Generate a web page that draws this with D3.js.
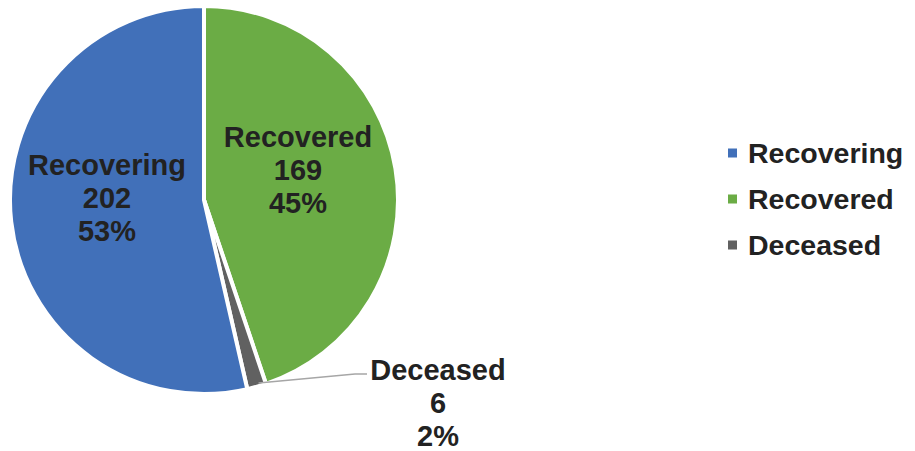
<!DOCTYPE html>
<html><head><meta charset="utf-8">
<script src="https://cdn.jsdelivr.net/npm/d3@7"></script>
<style>body{margin:0;background:#fff}svg{display:block}text{font-family:"Liberation Sans",Arial,sans-serif;font-weight:bold;fill:#222}</style>
</head><body><svg id="c" width="915" height="451"></svg>
<script>
const categories = ["Recovered", "Deceased", "Recovering"];
const values = [169, 6, 202];
const percentLabels = ["45%", "2%", "53%"];
const legendOrder = ["Recovering", "Recovered", "Deceased"];
const colors = {Recovering: "#4170B9", Recovered: "#6BAC45", Deceased: "#616161"};

const svg = d3.select("#c");
const cx = 204, cy = 200, R = 194;
const data = categories.map((c, i) => ({cat: c, value: values[i], pct: percentLabels[i]}));
const pie = d3.pie().value(d => d.value).sort(null);
const arcs = pie(data);
const arc = d3.arc().innerRadius(0).outerRadius(R);
const g = svg.append("g").attr("transform", `translate(${cx},${cy})`);
g.selectAll("path").data(arcs).join("path")
  .attr("d", arc).attr("fill", d => colors[d.data.cat])
  .attr("stroke", "#fff").attr("stroke-width", 4).attr("stroke-linejoin", "miter");

const fs = 29, lh = 33;
const labelPos = {Recovered: [298, 147], Recovering: [107, 175], Deceased: [438, 380]};
arcs.forEach(a => {
  const [x, y] = labelPos[a.data.cat];
  const t = svg.append("text").attr("text-anchor", "middle").attr("font-size", fs);
  [a.data.cat, String(a.data.value), a.data.pct].forEach((s, i) => {
    t.append("tspan").attr("x", x).attr("y", y + i * lh).text(s);
  });
});
// leader line for Deceased
const dec = arcs[1];
const mid = (dec.startAngle + dec.endAngle) / 2;
const p0 = [cx + (R - 8) * Math.sin(mid), cy - (R - 8) * Math.cos(mid)];
svg.append("polyline").attr("points", `${p0[0]+4},${p0[1]+4} 355,374 367,374`)
  .attr("fill", "none").attr("stroke", "#A6A6A6").attr("stroke-width", 1.5);

// legend
const lg = svg.append("g");
legendOrder.forEach((c, i) => {
  const y = 153 + i * 46;
  lg.append("rect").attr("x", 728).attr("y", y - 4.5).attr("width", 9).attr("height", 9).attr("fill", colors[c]);
  lg.append("text").attr("x", 748).attr("y", y + 10).attr("font-size", 28.5).text(c);
});
</script></body></html>
